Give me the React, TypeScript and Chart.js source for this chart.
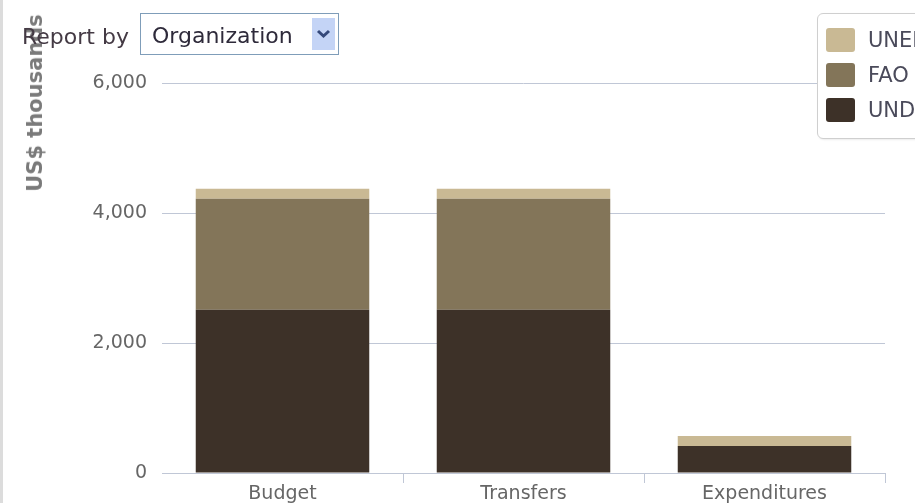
import React, { useEffect, useRef } from "react";
import { Chart, registerables } from "chart.js";

Chart.register(...registerables);

const categories = ["Budget", "Transfers", "Expenditures"];
const seriesNames = ["UNEP", "FAO", "UNDP"];
const undpValues = [2510, 2510, 415];
const faoValues = [1710, 1710, 0];
const unepValues = [155, 155, 154];
const yTicks = [0, 2000, 4000, 6000];

const colors = {
  UNEP: "#c9b994",
  FAO: "#837559",
  UNDP: "#3d3128",
};

const FONT = "'DejaVu Sans', Verdana, sans-serif";

export default function App() {
  const ref = useRef<HTMLCanvasElement | null>(null);

  useEffect(() => {
    if (!ref.current) return;
    const chart = new Chart(ref.current, {
      type: "bar",
      data: {
        labels: categories,
        datasets: [
          { label: seriesNames[2], data: undpValues, backgroundColor: colors.UNDP },
          { label: seriesNames[1], data: faoValues, backgroundColor: colors.FAO },
          { label: seriesNames[0], data: unepValues, backgroundColor: colors.UNEP },
        ],
      },
      options: {
        responsive: false,
        animation: false,
        layout: { padding: { top: 83, right: 30, left: 0, bottom: 0 } },
        plugins: { legend: { display: false }, tooltip: { enabled: false } },
        datasets: { bar: { categoryPercentage: 1, barPercentage: 0.72 } },
        scales: {
          x: {
            stacked: true,
            grid: {
              offset: true,
              drawOnChartArea: false,
              drawTicks: true,
              tickLength: 10,
              color: (ctx: any) => (ctx.index === 0 ? "rgba(0,0,0,0)" : "#c0c7d6"),
            },
            border: { display: true, color: "#c0c7d6" },
            ticks: { color: "#666", font: { family: FONT, size: 19 }, padding: 0 },
            afterFit: (s: any) => {
              s.height = 30;
            },
          },
          y: {
            stacked: true,
            min: 0,
            max: 6000,
            afterBuildTicks: (s: any) => {
              s.ticks = yTicks.map((v) => ({ value: v }));
            },
            grid: { color: "#c0c7d6", drawTicks: false },
            border: { display: false },
            ticks: {
              color: "#666",
              padding: 15,
              font: { family: FONT, size: 19 },
              callback: (v: any) => Number(v).toLocaleString("en-US"),
            },
            afterFit: (s: any) => {
              s.width = 162;
            },
          },
        },
      },
    });
    return () => chart.destroy();
  }, []);

  return (
    <div
      style={{
        position: "fixed",
        left: 0,
        top: 0,
        width: 915,
        height: 503,
        overflow: "hidden",
        background: "#fff",
        fontFamily: FONT,
      }}
    >
      <canvas ref={ref} width={915} height={503} style={{ position: "absolute", left: 0, top: 0 }} />
      <div style={{ position: "absolute", left: 0, top: 0, width: 3, height: 503, background: "#dcdcdc" }} />
      <div
        style={{
          position: "absolute",
          left: 35,
          top: 103,
          transform: "translate(-50%, -50%) rotate(-90deg)",
          whiteSpace: "nowrap",
          fontWeight: "bold",
          fontSize: 21,
          color: "#7a7a7a",
        }}
      >
        US$ thousands
      </div>
      <div
        style={{
          position: "absolute",
          left: 22,
          top: 26,
          fontSize: 22,
          lineHeight: "22px",
          color: "#443a44",
          whiteSpace: "nowrap",
        }}
      >
        Report by
      </div>
      <div
        style={{
          position: "absolute",
          left: 140,
          top: 13,
          width: 197,
          height: 40,
          border: "1px solid #7f9db9",
          background: "#fff",
        }}
      >
        <div
          style={{
            position: "absolute",
            left: 11,
            top: 11,
            fontSize: 22,
            lineHeight: "22px",
            color: "#2e2a3a",
            whiteSpace: "nowrap",
          }}
        >
          Organization
        </div>
        <div
          style={{
            position: "absolute",
            left: 171,
            top: 4,
            width: 23,
            height: 32,
            background: "#c4d4f6",
          }}
        >
          <svg width={23} height={32} style={{ display: "block" }}>
            <polyline points="6,13 11.5,18 17,13" fill="none" stroke="#34487a" strokeWidth={3} />
          </svg>
        </div>
      </div>
      <div
        style={{
          position: "absolute",
          left: 817,
          top: 13,
          width: 130,
          height: 124,
          border: "1px solid #cfcfcf",
          borderRadius: 6,
          background: "#fff",
          boxShadow: "1px 1px 2px rgba(0,0,0,0.08)",
        }}
      >
        {seriesNames.map((name, i) => (
          <div key={name} style={{ position: "absolute", left: 8, top: 14 + i * 35, height: 24 }}>
            <div
              style={{
                position: "absolute",
                left: 0,
                top: 0,
                width: 29,
                height: 24,
                borderRadius: 3,
                background: (colors as any)[name],
              }}
            />
            <div
              style={{
                position: "absolute",
                left: 42,
                top: 1,
                fontSize: 21,
                lineHeight: "22px",
                color: "#4a4a5a",
                whiteSpace: "nowrap",
              }}
            >
              {name}
            </div>
          </div>
        ))}
      </div>
    </div>
  );
}
